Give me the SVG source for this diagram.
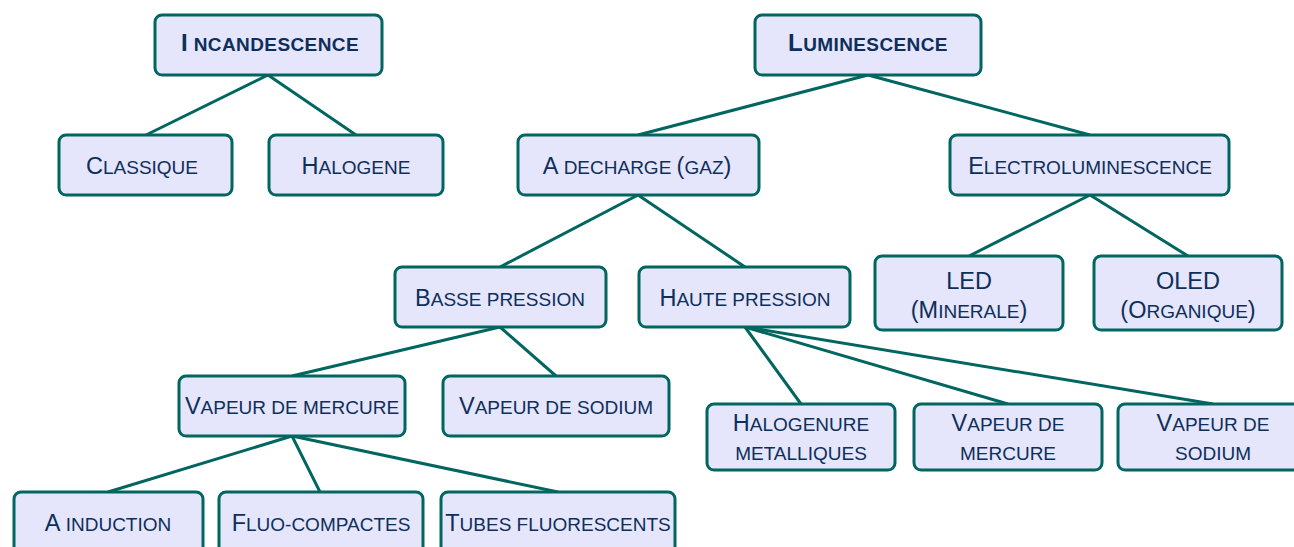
<svg xmlns="http://www.w3.org/2000/svg" width="1294" height="547" viewBox="0 0 1294 547">
<style>
.box{fill:#e5e5fb;stroke:#00665f;stroke-width:3}
.con line{stroke:#00665f;stroke-width:3}
text{font-family:"Liberation Sans",Arial,sans-serif;fill:#0d2f5c;font-size:19px;text-anchor:middle}
.k{font-size:23.5px}
.t{font-weight:bold;font-size:19px;letter-spacing:0.4px}
.t .k{font-size:24px}
</style>
<rect width="1294" height="547" fill="#ffffff"/>
<g class="con">
<line x1="268" y1="75" x2="146" y2="135"/>
<line x1="268" y1="75" x2="356" y2="135"/>
<line x1="868" y1="75" x2="638" y2="135"/>
<line x1="868" y1="75" x2="1090" y2="135"/>
<line x1="638" y1="195" x2="500" y2="267"/>
<line x1="638" y1="195" x2="745" y2="267"/>
<line x1="1090" y1="195" x2="969" y2="256"/>
<line x1="1090" y1="195" x2="1188" y2="256"/>
<line x1="500" y1="327" x2="292" y2="376"/>
<line x1="500" y1="327" x2="556" y2="376"/>
<line x1="745" y1="327" x2="801" y2="404"/>
<line x1="745" y1="327" x2="1008" y2="404"/>
<line x1="745" y1="327" x2="1213" y2="404"/>
<line x1="292" y1="436" x2="108" y2="492"/>
<line x1="292" y1="436" x2="320" y2="492"/>
<line x1="292" y1="436" x2="558" y2="492"/>
</g>
<g id="incandescence"><rect class="box" x="155" y="15" width="227" height="60" rx="7"/><text class="t" x="270" y="51"><tspan class="k">I</tspan> NCANDESCENCE</text></g>
<g id="luminescence"><rect class="box" x="755" y="15" width="226" height="60" rx="7"/><text class="t" x="868" y="51"><tspan class="k">L</tspan>UMINESCENCE</text></g>
<g id="classique"><rect class="box" x="59" y="135" width="173" height="60" rx="7"/><text x="142" y="174"><tspan class="k">C</tspan>LASSIQUE</text></g>
<g id="halogene"><rect class="box" x="269" y="135" width="174" height="60" rx="7"/><text x="356" y="174"><tspan class="k">H</tspan>ALOGENE</text></g>
<g id="decharge"><rect class="box" x="518" y="135" width="241" height="60" rx="7"/><text x="637" y="174"><tspan class="k">A</tspan> DECHARGE <tspan class="k">(</tspan>GAZ<tspan class="k">)</tspan></text></g>
<g id="electroluminescence"><rect class="box" x="950" y="135" width="279" height="60" rx="7"/><text x="1090" y="174"><tspan class="k">E</tspan>LECTROLUMINESCENCE</text></g>
<g id="basse-pression"><rect class="box" x="395" y="267" width="211" height="60" rx="7"/><text x="500" y="306"><tspan class="k">B</tspan>ASSE PRESSION</text></g>
<g id="haute-pression"><rect class="box" x="639" y="267" width="211" height="60" rx="7"/><text x="745" y="306"><tspan class="k">H</tspan>AUTE PRESSION</text></g>
<g id="led"><rect class="box" x="875" y="256" width="188" height="74" rx="7"/><text x="969" y="289"><tspan class="k">LED</tspan></text><text x="969" y="318"><tspan class="k">(M</tspan>INERALE<tspan class="k">)</tspan></text></g>
<g id="oled"><rect class="box" x="1094" y="256" width="188" height="74" rx="7"/><text x="1188" y="289"><tspan class="k">OLED</tspan></text><text x="1188" y="318"><tspan class="k">(O</tspan>RGANIQUE<tspan class="k">)</tspan></text></g>
<g id="vapeur-mercure"><rect class="box" x="179" y="376" width="226" height="60" rx="7"/><text x="292" y="414"><tspan class="k">V</tspan>APEUR DE MERCURE</text></g>
<g id="vapeur-sodium"><rect class="box" x="443" y="376" width="226" height="60" rx="7"/><text x="556" y="414"><tspan class="k">V</tspan>APEUR DE SODIUM</text></g>
<g id="halogenure"><rect class="box" x="707" y="404" width="188" height="66" rx="7"/><text x="801" y="431"><tspan class="k">H</tspan>ALOGENURE</text><text x="801" y="460">METALLIQUES</text></g>
<g id="hp-vapeur-mercure"><rect class="box" x="914" y="404" width="188" height="66" rx="7"/><text x="1008" y="431"><tspan class="k">V</tspan>APEUR DE</text><text x="1008" y="460">MERCURE</text></g>
<g id="hp-vapeur-sodium"><rect class="box" x="1118" y="404" width="188" height="66" rx="7"/><text x="1213" y="431"><tspan class="k">V</tspan>APEUR DE</text><text x="1213" y="460">SODIUM</text></g>
<g id="induction"><rect class="box" x="14" y="492" width="189" height="70" rx="7"/><text x="108" y="531"><tspan class="k">A</tspan> INDUCTION</text></g>
<g id="fluo-compactes"><rect class="box" x="219" y="492" width="204" height="70" rx="7"/><text x="321" y="531"><tspan class="k">F</tspan>LUO-COMPACTES</text></g>
<g id="tubes"><rect class="box" x="441" y="492" width="234" height="70" rx="7"/><text x="558" y="531"><tspan class="k">T</tspan>UBES FLUORESCENTS</text></g>
</svg>
